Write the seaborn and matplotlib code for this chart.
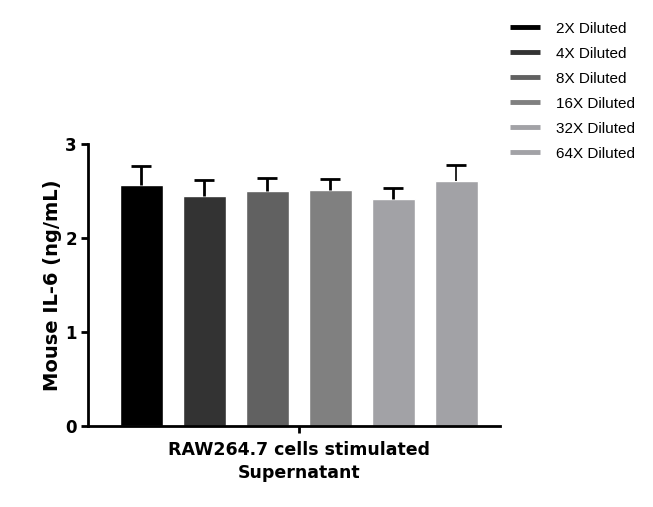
import pandas as pd
import matplotlib
matplotlib.use('Agg')
import matplotlib.pyplot as plt
from matplotlib.lines import Line2D
import seaborn as sns

# values
dilutions = ['2X Diluted', '4X Diluted', '8X Diluted', '16X Diluted', '32X Diluted', '64X Diluted']
means = [2.56, 2.45, 2.50, 2.51, 2.42, 2.61]
sd_upper = [0.21, 0.17, 0.14, 0.12, 0.11, 0.17]
colors = ['#000000', '#333333', '#616161', '#808080', '#a2a2a6', '#a2a2a6']
group = 'RAW264.7 cells stimulated\nSupernatant'

df = pd.DataFrame({'group': [group] * len(dilutions), 'dilution': dilutions, 'value': means})

sns.set_style('white')
plt.rcParams['font.family'] = ['DejaVu Sans']
plt.rcParams['text.color'] = 'black'
plt.rcParams['axes.labelcolor'] = 'black'
plt.rcParams['xtick.color'] = 'black'
plt.rcParams['ytick.color'] = 'black'

fig = plt.figure(figsize=(6.53, 5.07), dpi=100)
ax = fig.add_axes([88 / 653, 81 / 507, 412 / 653, 282 / 507])

sns.barplot(data=df, x='group', y='value', hue='dilution', hue_order=dilutions,
            palette=colors, width=1.0, gap=0.32, errorbar=None, legend=False,
            saturation=1, ax=ax)

# upper error bars on top of each bar
xs = [p.get_x() + p.get_width() / 2 for p in ax.patches]
ys = [p.get_height() for p in ax.patches]
lws = [2.0, 2.0, 2.0, 2.0, 2.0, 1.2]
for x, y, e, lw in zip(xs, ys, sd_upper, lws):
    eb = ax.errorbar(x, y, yerr=[[0], [e]], fmt='none', ecolor='black',
                     elinewidth=lw, capsize=7, capthick=2.0, zorder=3)
    eb[1][0].set_visible(False)

ax.set_ylim(0, 3)
ax.set_xlim(-0.558, 0.532)
ax.set_yticks([0, 1, 2, 3])
ax.set_ylabel('Mouse IL-6 (ng/mL)', fontsize=14, fontweight='bold', labelpad=2)
ax.set_xlabel('')
for s in ['top', 'right']:
    ax.spines[s].set_visible(False)
for s in ['left', 'bottom']:
    ax.spines[s].set_linewidth(2.0)
    ax.spines[s].set_color('black')
ax.tick_params(axis='both', direction='out', length=5, width=2.0, color='black',
               labelsize=12, pad=3, left=True, bottom=True)
for lbl in ax.get_yticklabels():
    lbl.set_fontweight('bold')
for lbl in ax.get_xticklabels():
    lbl.set_fontweight('bold')
    lbl.set_linespacing(1.35)
ax.tick_params(axis='x', labelsize=12.5, pad=6)

handles = [Line2D([], [], color=c, lw=3.5, solid_capstyle='butt') for c in colors]
fig.legend(handles, dilutions, loc='upper left', bbox_to_anchor=(496 / 653, 1 - 8 / 507),
           frameon=False, handlelength=2.0, handletextpad=1.0, labelspacing=0.72,
           prop={'family': 'Liberation Sans', 'size': 11})

fig.savefig('out.png', dpi=100)
